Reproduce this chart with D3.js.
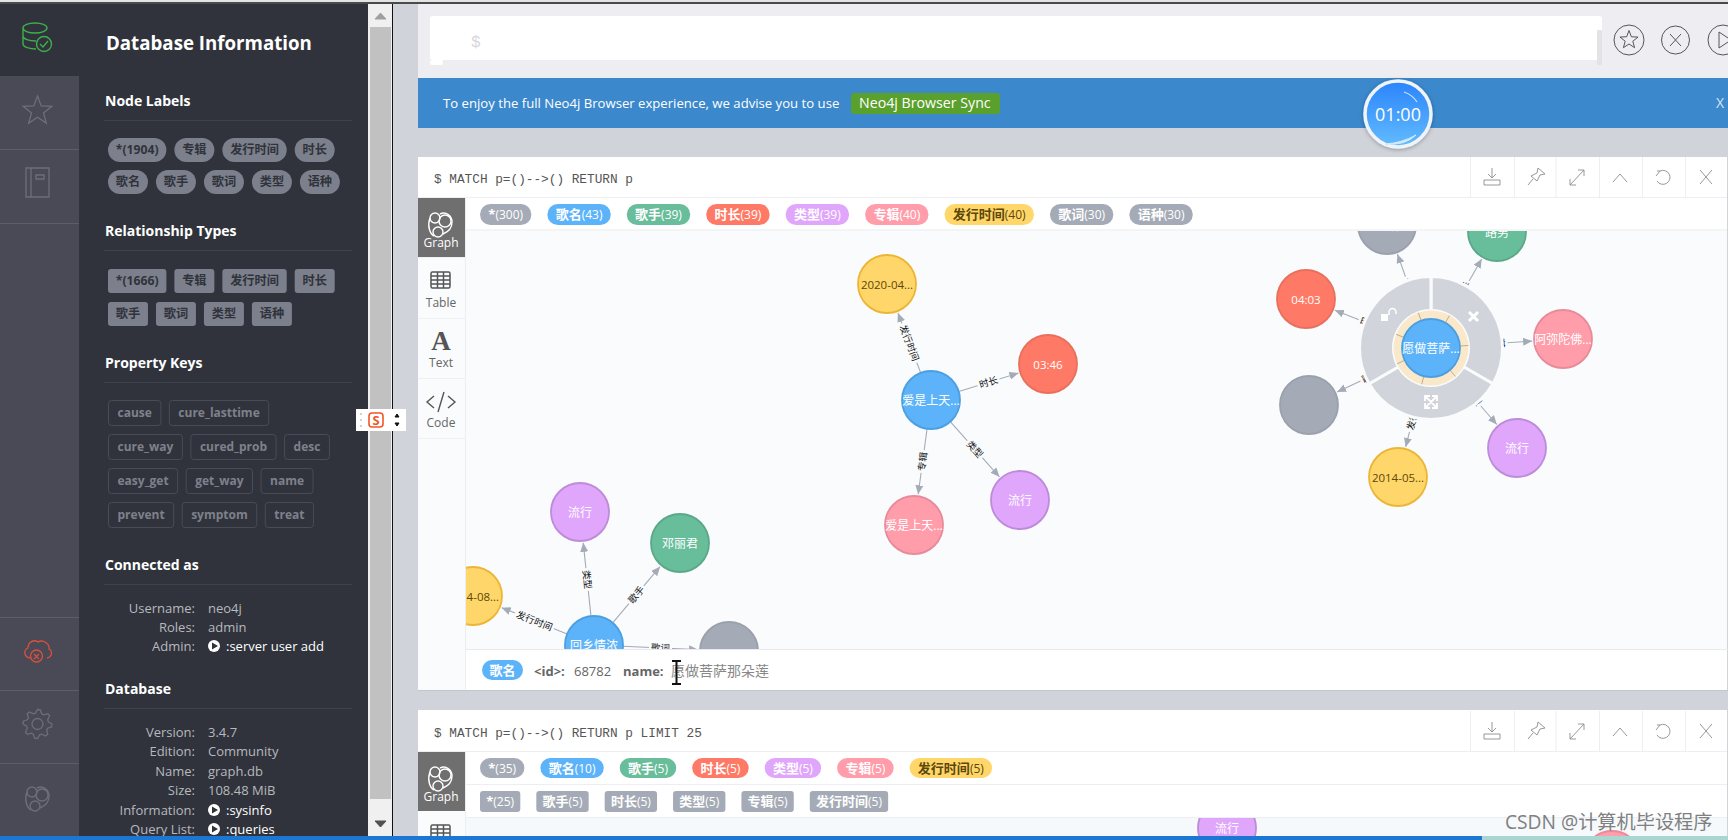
<!doctype html>
<html>
<head>
<meta charset="UTF-8">
<title>Neo4j Browser</title>
<script src="https://d3js.org/d3.v7.min.js"></script>
<style>
  html, body { margin: 0; padding: 0; background: #d0d3da; overflow: hidden; }
  svg { display: block; }
  text { font-family: "Open Sans", "Noto Sans CJK SC", sans-serif; }
  .mono { font-family: "Liberation Mono", "Noto Sans CJK SC", monospace; }
</style>
</head>
<body>
<svg id="page" width="1728" height="840"></svg>
<script>
// sidebar values
var nodeLabelTags = ["*(1904)", "专辑", "发行时间", "时长", "歌名", "歌手", "歌词", "类型", "语种"];
var relTypeTags = ["*(1666)", "专辑", "发行时间", "时长", "歌手", "歌词", "类型", "语种"];
var propertyKeys = [["cause", "cure_lasttime"], ["cure_way", "cured_prob", "desc"], ["easy_get", "get_way", "name"], ["prevent", "symptom", "treat"]];
var connectedKeys = ["Username:", "Roles:", "Admin:"];
var connectedVals = ["neo4j", "admin", ":server user add"];
var databaseKeys = ["Version:", "Edition:", "Name:", "Size:", "Information:", "Query List:"];
var databaseVals = ["3.4.7", "Community", "graph.db", "108.48 MiB", ":sysinfo", ":queries"];

// frame legends
var legendNames = ["*", "歌名", "歌手", "时长", "类型", "专辑", "发行时间", "歌词", "语种"];
var legendCounts = [300, 43, 39, 39, 39, 40, 40, 30, 30];
var legend2Names = ["*", "歌名", "歌手", "时长", "类型", "专辑", "发行时间"];
var legend2Counts = [35, 10, 5, 5, 5, 5, 5];
var rel2Names = ["*", "歌手", "时长", "类型", "专辑", "发行时间"];
var rel2Counts = [25, 5, 5, 5, 5, 5];

// graph of the first result, in graph units
var nodeNames = ["爱是上天...", "2020-04...", "03:46", "爱是上天...", "流行",
                 "回乡情浓", "流行", "邓丽君", "2014-08...", "",
                 "愿做菩萨...", "国语", "路男", "04:03", "阿弥陀佛...", "", "流行", "2014-05..."];
var nodeTypes = ["歌名", "发行时间", "时长", "专辑", "类型",
                 "歌名", "类型", "歌手", "发行时间", "歌词",
                 "歌名", "语种", "歌手", "时长", "专辑", "歌词", "类型", "发行时间"];
var nodeX = [466, 422, 583, 449, 555, 129, 115, 215, 8, 264, 966, 922, 1032, 841, 1098, 844, 1052, 933];
var nodeY = [170, 54, 134, 295, 270, 415, 282, 313, 366, 421, 118, -5, 2, 69, 109, 175, 218, 247];
var edgeFrom = [0, 0, 0, 0, 5, 5, 5, 5, 10, 10, 10, 10, 10, 10, 10];
var edgeTo = [1, 2, 3, 4, 6, 7, 8, 9, 11, 12, 13, 14, 15, 16, 17];
var edgeNames = ["发行时间", "时长", "专辑", "类型", "类型", "歌手", "发行时间", "歌词", "语种", "歌手", "时长", "专辑", "歌词", "类型", "发行时间"];

// second frame only shows two nodes poking in at the bottom
var node2Names = ["流行", ""];
var node2Types = ["类型", "专辑"];
var node2X = [762, 1147];
var node2Y = [11, 43];

var typeFill = {"*": "#a5abb6", "歌名": "#5db3fa", "歌手": "#68bd9b", "时长": "#ff7a66", "类型": "#dfa6fb", "专辑": "#ff9dab", "发行时间": "#ffd66a", "歌词": "#a5abb6", "语种": "#a5abb6"};
var typeEdge = {"*": "#9aa1ac", "歌名": "#4b9fe0", "歌手": "#5ba888", "时长": "#e86f5c", "类型": "#bd8bd8", "专辑": "#e88a98", "发行时间": "#edb534", "歌词": "#9aa1ac", "语种": "#9aa1ac"};
var typeText = {"发行时间": "#5c4708"};

var svg = d3.select("#page");
var defs = svg.append("defs");
var gridGray = "#a5abb6", graphBg = "#f9fbfd";

function box(p, x, y, w, h, fill, r) {
    return p.append("rect").attr("x", x).attr("y", y).attr("width", w).attr("height", h)
        .attr("fill", fill).attr("rx", r || 0).attr("ry", r || 0);
}
function label(p, x, y, s, size, fill, weight, anchor) {
    return p.append("text").attr("x", x).attr("y", y).text(s)
        .attr("font-size", size).attr("fill", fill)
        .attr("font-weight", weight || 400).attr("text-anchor", anchor || "start");
}
function line(p, x1, y1, x2, y2, col, w) {
    return p.append("line").attr("x1", x1).attr("y1", y1).attr("x2", x2).attr("y2", y2)
        .attr("stroke", col).attr("stroke-width", w || 1);
}
function path(p, d, col, w, fill) {
    return p.append("path").attr("d", d).attr("fill", fill || "none")
        .attr("stroke", col).attr("stroke-width", w || 1);
}

// row of pills, each one as wide as its text plus padding
function pillRow(p, items, x, y, o) {
    items.forEach(function(it) {
        var g = p.append("g");
        var t = g.append("text").attr("y", y + o.h / 2).attr("dy", ".36em")
            .attr("font-size", o.size).attr("fill", o.color ? o.color(it) : "#fff");
        t.append("tspan").attr("font-weight", o.boldName === false ? 400 : 700).text(it.name);
        if (it.count !== undefined) t.append("tspan").attr("font-size", o.size - 1).text("(" + it.count + ")");
        var w = t.node().getComputedTextLength() + o.pad * 2;
        t.attr("x", x + o.pad);
        var r = g.insert("rect", "text").attr("x", x).attr("y", y).attr("width", w).attr("height", o.h)
            .attr("rx", o.r).attr("ry", o.r).attr("fill", o.fill ? o.fill(it) : "none");
        if (o.stroke) r.attr("stroke", o.stroke);
        x += w + o.gap;
    });
}

function star(p, cx, cy, r, col, w) {
    var pts = d3.range(10).map(function(i) {
        var a = -Math.PI / 2 + i * Math.PI / 5, rr = i % 2 ? r * 0.42 : r;
        return [cx + rr * Math.cos(a), cy + rr * Math.sin(a)];
    });
    path(p, "M" + pts.join("L") + "Z", col, w);
}
function graphIcon(p, cx, cy, col) {
    var g = p.append("g").attr("transform", "translate(" + cx + "," + cy + ")").attr("fill", "none").attr("stroke", col).attr("stroke-width", 1.4);
    g.append("circle").attr("cx", -5).attr("cy", -6).attr("r", 5);
    g.append("circle").attr("cx", 5).attr("cy", -3).attr("r", 6);
    g.append("circle").attr("cx", -2).attr("cy", 8).attr("r", 5);
    g.append("path").attr("d", "M-10,-6C-13,2 -10,10 -6,12M0,-10C6,-13 12,-8 12,-2C12,5 8,8 3,10");
}

// ---------- frames ----------
box(svg, 0, 0, 1728, 840, "#d0d3da");
box(svg, 0, 0, 1728, 2, "#e4e4e4");
box(svg, 0, 2, 1728, 2, "#4a4a4a");

// editor
box(svg, 418, 4, 1310, 74, "#eeeef2");
box(svg, 430, 16, 1172, 44, "#fff", 3);
box(svg, 430, 60, 13, 5, "#fff", 2);
box(svg, 1597, 30, 5, 35, "#e3e3e6", 1);
label(svg, 471, 47, "$", 16, "#d6d6da").attr("class", "mono");
var circ = [[1629, 40, 15], [1675.5, 40, 14], [1723, 40, 15]];
circ.forEach(function(c) {
    svg.append("circle").attr("cx", c[0]).attr("cy", c[1]).attr("r", c[2]).attr("fill", "none").attr("stroke", "#555").attr("stroke-width", 1);
});
star(svg, 1629, 40, 9.5, "#555", 1);
path(svg, "M1670,34L1681,46M1681,34L1670,46", "#555", 1);
path(svg, "M1719,32L1731,40L1719,48Z", "#555", 1);

// banner
box(svg, 418, 78, 1310, 50, "#3b88cd");
label(svg, 443, 108, "To enjoy the full Neo4j Browser experience, we advise you to use", 13.15, "#fff");
box(svg, 851, 93, 149, 21, "#5aa02c", 3);
label(svg, 859, 108, "Neo4j Browser Sync", 14.2, "#fff");
label(svg, 1720, 108, "X", 14, "#d5e4f3", 400, "middle");

// result frames
box(svg, 418, 157, 1310, 533, "#fff");
box(svg, 418, 690, 1310, 1, "#c3c6cd");
box(svg, 418, 710, 1310, 130, "#fff");

function frameHead(top, query) {
    label(svg, 434, top + 26, query, 12.75, "#555").attr("class", "mono");
    line(svg, 418, top + 40.5, 1728, top + 40.5, "#eceef1");
    [1470, 1514, 1555.5, 1599, 1642, 1685].forEach(function(x) {
        line(svg, x + 0.5, top, x + 0.5, top + 40, "#eceef1");
    });
    var y = top + 20, c = "#8c8c8c";
    // download, pin, expand, collapse, refresh, close
    path(svg, "M1492,"+(y-9)+"V"+(y+1)+"M1488,"+(y-3)+"L1492,"+(y+1)+"L1496,"+(y-3)+"M1484,"+(y+3)+"H1500V"+(y+8)+"H1484Z", c, 0.9);
    path(svg, "M1538,"+(y-9)+"L1545,"+(y-3)+"L1540,"+(y-2)+"L1537,"+(y+4)+"L1531,"+(y-1)+"L1537,"+(y-4)+"ZM1533,"+(y+2)+"L1528,"+(y+8), c, 0.9);
    path(svg, "M1570,"+(y+8)+"L1584,"+(y-7)+"M1578,"+(y-7)+"H1584V"+(y-1)+"M1570,"+(y+2)+"V"+(y+8)+"H1576", c, 0.9);
    path(svg, "M1613,"+(y+5)+"L1620,"+(y-3)+"L1627,"+(y+5), c, 0.9);
    path(svg, "M1660,"+(y-6)+"A7,7 0 1 1 1657,"+(y+4)+"M1656,"+(y-1)+"L1660,"+(y-6)+"L1657,"+(y-6), c, 0.9);
    path(svg, "M1700,"+(y-7)+"L1712,"+(y+7)+"M1712,"+(y-7)+"L1700,"+(y+7), c, 0.9);
}
frameHead(157, "$ MATCH p=()-->() RETURN p");
frameHead(711, "$ MATCH p=()-->() RETURN p LIMIT 25");

// left tabs
function tabs(top, bottom) {
    box(svg, 418, top, 47, bottom - top, graphBg);
    line(svg, 465.5, top, 465.5, bottom, "#eceef1");
    box(svg, 418, top, 47, 59, "#6f6f6f");
    graphIcon(svg, 440, top + 26, "#fff");
    label(svg, 441, top + 49, "Graph", 12, "#fff", 400, "middle");
}
tabs(198, 690);
[257, 318, 378, 438].forEach(function(y) { line(svg, 418, y + 0.5, 465, y + 0.5, "#eef0f3"); });
function tableIcon(y) {
    var g = svg.append("g").attr("fill", "none").attr("stroke", "#555").attr("stroke-width", 1.5);
    g.append("rect").attr("x", 431).attr("y", y).attr("width", 19).attr("height", 16).attr("rx", 1.5);
    [4, 8, 12].forEach(function(d) { g.append("line").attr("x1", 431).attr("x2", 450).attr("y1", y + d).attr("y2", y + d); });
    [6.5, 12.5].forEach(function(d) { g.append("line").attr("x1", 431 + d).attr("x2", 431 + d).attr("y1", y).attr("y2", y + 16); });
}
tableIcon(272);
label(svg, 441, 307, "Table", 12, "#666", 400, "middle");
label(svg, 441, 350, "A", 27, "#555", 700, "middle").style("font-family", "Liberation Serif");
label(svg, 441, 367, "Text", 12, "#666", 400, "middle");
path(svg, "M434,396L427,402L434,408M448,396L455,402L448,408M444,392L438,412", "#555", 1.4);
label(svg, 441, 427, "Code", 12, "#666", 400, "middle");
tabs(752, 836);
tableIcon(825);

// legends
function legendItems(names, counts) {
    return names.map(function(n, i) { return {name: n, count: counts[i]}; });
}
var pillFill = function(it) { return typeFill[it.name]; };
var pillColor = function(it) { return it.name === "发行时间" ? "#5c4708" : "#fff"; };
pillRow(svg, legendItems(legendNames, legendCounts), 480, 204, {h: 21, r: 10.5, pad: 8.3, gap: 16, size: 13, fill: pillFill, color: pillColor});
line(svg, 466, 230, 1728, 230, "#e8eaed");

pillRow(svg, legendItems(legend2Names, legend2Counts), 480, 758, {h: 20, r: 10, pad: 8.25, gap: 16, size: 13, fill: pillFill, color: pillColor});
line(svg, 466, 784.5, 1728, 784.5, "#eceef1");
pillRow(svg, legendItems(rel2Names, rel2Counts), 480, 791, {h: 21, r: 3, pad: 6.2, gap: 16, size: 13, fill: function() { return gridGray; }, color: function() { return "#fff"; }});
line(svg, 466, 817.5, 1728, 817.5, "#eceef1");

// ---------- graph ----------
var x = d3.scaleLinear().domain([0, 1262]).range([465, 1727]);
var y = d3.scaleLinear().domain([0, 420]).range([230, 650]);
var y2 = d3.scaleLinear().domain([0, 19]).range([817, 836]);

defs.append("clipPath").attr("id", "clip1").append("rect").attr("x", 466).attr("y", 231).attr("width", 1261).attr("height", 418);
defs.append("clipPath").attr("id", "clip2").append("rect").attr("x", 466).attr("y", 818).attr("width", 1261).attr("height", 18);
defs.append("marker").attr("id", "arrow").attr("markerUnits", "userSpaceOnUse").attr("markerWidth", 10).attr("markerHeight", 8)
    .attr("refX", 9).attr("refY", 4).attr("orient", "auto")
    .append("path").attr("d", "M0,0L9,4L0,8Z").attr("fill", gridGray);

box(svg, 466, 231, 1261, 418, graphBg);
box(svg, 466, 818, 1261, 18, "#f6f9fb");

var R = 29;
var graph = svg.append("g").attr("clip-path", "url(#clip1)");
var links = edgeFrom.map(function(s, i) {
    var sx = x(nodeX[s]), sy = y(nodeY[s]), tx = x(nodeX[edgeTo[i]]), ty = y(nodeY[edgeTo[i]]);
    var len = Math.hypot(tx - sx, ty - sy), ux = (tx - sx) / len, uy = (ty - sy) / len;
    var deg = Math.atan2(uy, ux) * 180 / Math.PI;
    if (deg > 90 || deg < -90) deg += 180;
    return {x1: sx + ux * R, y1: sy + uy * R, x2: tx - ux * (R + 2), y2: ty - uy * (R + 2),
            ux: ux, uy: uy, sx: sx, sy: sy, deg: deg, name: edgeNames[i], from: s,
            mx: (sx + ux * R + tx - ux * (R + 2)) / 2, my: (sy + uy * R + ty - uy * (R + 2)) / 2};
});

graph.selectAll("line.edge").data(links).enter().append("line").attr("class", "edge")
    .attr("x1", function(d) { return d.x1; }).attr("y1", function(d) { return d.y1; })
    .attr("x2", function(d) { return d.x2; }).attr("y2", function(d) { return d.y2; })
    .attr("stroke", gridGray).attr("stroke-width", 1.1).attr("marker-end", "url(#arrow)");

var cap = graph.selectAll("g.cap").data(links).enter().append("g").attr("class", "cap")
    .attr("transform", function(d) { return "translate(" + d.mx + "," + d.my + ") rotate(" + d.deg + ")"; });
cap.append("rect").attr("x", function(d) { return -d.name.length * 4.75 - 2; }).attr("y", -6)
    .attr("width", function(d) { return d.name.length * 9.5 + 4; }).attr("height", 12).attr("fill", graphBg);
cap.append("text").attr("text-anchor", "middle").attr("dy", ".36em").attr("font-size", 9.5).attr("fill", "#111").text(function(d) { return d.name; });

// selected node ring
var selected = 10;
var cx = x(nodeX[selected]), cy = y(nodeY[selected]);
var ring = graph.append("g").attr("transform", "translate(" + cx + "," + cy + ")");
var arc = d3.arc().innerRadius(37.5).outerRadius(71.5);
ring.selectAll("path.seg").data(d3.pie().sort(null)([1, 1, 1])).enter().append("path").attr("class", "seg")
    .attr("d", arc).attr("fill", "#d1d4da").attr("stroke", graphBg).attr("stroke-width", 3);
ring.append("circle").attr("r", 37.5).attr("fill", "#f9e8c9");
links.forEach(function(d) {
    if (d.from !== selected) return;
    line(ring, d.ux * R, d.uy * R, d.ux * 37.5, d.uy * 37.5, "#c2ae88", 1);
});
// ring icons
ring.append("rect").attr("x", -50).attr("y", -34).attr("width", 7).attr("height", 7).attr("fill", "#fff");
path(ring, "M-42,-33V-36A3.5,3.5 0 0 1 -35,-36V-34", "#fff", 1.5);
path(ring, "M38,-36L47,-27M47,-36L38,-27", "#fff", 3);
path(ring, "M-5,49L5,59M5,49L-5,59M-6,53V48H-1M1,48H6V53M6,55V60H1M-1,60H-6V55", "#fff", 1.8);

function drawNodes(p, names, types, xs, ys, ysc) {
    var n = p.selectAll("g.node").data(names).enter().append("g").attr("class", "node")
        .attr("transform", function(d, i) { return "translate(" + x(xs[i]) + "," + ysc(ys[i]) + ")"; });
    n.append("circle").attr("r", R)
        .attr("fill", function(d, i) { return typeFill[types[i]]; })
        .attr("stroke", function(d, i) { return typeEdge[types[i]]; }).attr("stroke-width", 1.8);
    n.append("text").attr("text-anchor", "middle").attr("dy", ".45em")
        .attr("font-size", function(d) { return /[0-9]/.test(d) ? 11.5 : 12; })
        .attr("fill", function(d, i) { return typeText[types[i]] || "#fff"; }).text(function(d) { return d; });
}
drawNodes(graph, nodeNames, nodeTypes, nodeX, nodeY, y);
var graph2 = svg.append("g").attr("clip-path", "url(#clip2)");
drawNodes(graph2, node2Names, node2Types, node2X, node2Y, y2);
box(svg, 1727, 157, 1, 533, "#d0d3da");
box(svg, 1727, 710, 1, 126, "#d0d3da");

// frame 1 footer
line(svg, 466, 649.5, 1728, 649.5, "#e8eaed");
box(svg, 482, 660, 41, 20, typeFill["歌名"], 10);
label(svg, 502.5, 675, "歌名", 13, "#fff", 700, "middle");
label(svg, 534, 676, "<id>:", 13, "#666", 700);
label(svg, 574, 676, "68782", 13, "#666");
label(svg, 623, 676, "name:", 13, "#666", 700);
label(svg, 671, 676, "愿做菩萨那朵莲", 14, "#888");
path(svg, "M672,661H681M676.5,661V684M672,684H681", "#111", 2);

// ---------- sidebar ----------
box(svg, 0, 4, 79, 832, "#4a4a57");
box(svg, 79, 4, 289, 832, "#30333b");
box(svg, 0, 4, 79, 72, "#30333b");
[149, 223, 617, 690, 763].forEach(function(y0) { line(svg, 0, y0 + 0.5, 79, y0 + 0.5, "#5d5d6a"); });

var rail = "#6e6e7a", ok = "#3fae4c", bad = "#d9513c";
path(svg, "M23,28A12,5 0 1 0 47,28A12,5 0 1 0 23,28V44C23,47 30,49 36,49M23,36C23,39 29,41 36,41", ok, 1.4);
svg.append("circle").attr("cx", 44).attr("cy", 44).attr("r", 7.5).attr("fill", "#30333b").attr("stroke", ok).attr("stroke-width", 1.4);
path(svg, "M40,44L43,47L48,41", ok, 1.4);
star(svg, 37.5, 111, 15, rail, 1.3);
path(svg, "M26,168H49V197H26ZM31,168V197M36,175H44V179H36Z", rail, 1.3);
path(svg, "M30,658C24,657 23,650 28,648C28,642 34,639 38,642C43,639 50,644 49,649C53,651 52,657 47,658", bad, 1.3);
svg.append("circle").attr("cx", 36.5).attr("cy", 656).attr("r", 6).attr("fill", "none").attr("stroke", bad).attr("stroke-width", 1.3);
path(svg, "M34,654L39,659M39,654L34,659", bad, 1.2);
var gear = d3.lineRadial().curve(d3.curveLinearClosed)(d3.range(32).map(function(i) {
    return [i * Math.PI / 16, i % 4 < 2 ? 14.5 : 11];
}));
path(svg, gear, rail, 1.3).attr("transform", "translate(37.5,724)");
svg.append("circle").attr("cx", 37.5).attr("cy", 724).attr("r", 5.5).attr("fill", "none").attr("stroke", rail).attr("stroke-width", 1.3);
graphIcon(svg, 37, 798, rail);

label(svg, 106, 50, "Database Information", 18.7, "#fff", 700);
function section(title, base) {
    label(svg, 105, base, title, 14, "#fff", 700);
    line(svg, 104, base + 14.5, 352, base + 14.5, "#3e424c");
}
section("Node Labels", 106);
section("Relationship Types", 236);
section("Property Keys", 368);
section("Connected as", 570);
section("Database", 694);

function tagItems(a) { return a.map(function(n) { return {name: n}; }); }
var tagStyle = function(r) {
    return {h: 24, r: r, pad: 7.8, gap: 8, size: 12.2, fill: function() { return "#7c808c"; }, color: function() { return "#30333b"; }};
};
pillRow(svg, tagItems(nodeLabelTags.slice(0, 4)), 108, 138, tagStyle(12));
pillRow(svg, tagItems(nodeLabelTags.slice(4)), 108, 170, tagStyle(12));
pillRow(svg, tagItems(relTypeTags.slice(0, 4)), 108, 269, tagStyle(3));
pillRow(svg, tagItems(relTypeTags.slice(4)), 108, 302, tagStyle(3));
propertyKeys.forEach(function(row, i) {
    pillRow(svg, tagItems(row), 108.5, 400.5 + i * 34, {h: 25, r: 3, pad: 9, gap: 8.5, size: 12, stroke: "#484c56", fill: function() { return "none"; }, color: function() { return "#7e818c"; }});
});

function infoRows(keys, vals, ys, links) {
    keys.forEach(function(k, i) {
        label(svg, 195, ys[i], k, 13, "#b7b9be", 400, "end");
        if (links.indexOf(i) >= 0) {
            svg.append("circle").attr("cx", 214).attr("cy", ys[i] - 5).attr("r", 6).attr("fill", "#fff");
            svg.append("path").attr("d", "M212,"+(ys[i]-8.5)+"L218,"+(ys[i]-5)+"L212,"+(ys[i]-1.5)+"Z").attr("fill", "#30333b");
            label(svg, 226, ys[i], vals[i], 13, "#fff");
        } else {
            label(svg, 208, ys[i], vals[i], 13, "#b7b9be");
        }
    });
}
infoRows(connectedKeys, connectedVals, [613, 632, 651], [2]);
infoRows(databaseKeys, databaseVals, [737, 756, 776, 795, 815, 834], [4, 5]);

// scrollbar
box(svg, 368, 4, 24, 832, "#f0f0f0");
box(svg, 370, 27, 21, 772, "#c1c1c1");
path(svg, "M375,19L380.5,13L386,19Z", "#a0a0a0", 0, "#a0a0a0");
path(svg, "M375,821L380.5,827L386,821Z", "#505050", 0, "#505050");
line(svg, 392.5, 4, 392.5, 836, "#111");

// toolbar of the input method
box(svg, 356, 409, 50, 22, "#fff");
[414, 420, 426].forEach(function(yy) { svg.append("circle").attr("cx", 361).attr("cy", yy).attr("r", 0.8).attr("fill", "#999"); });
box(svg, 369, 413, 14, 14, "#fff", 3).attr("stroke", "#f0572a").attr("stroke-width", 1.6);
label(svg, 376, 425, "S", 13, "#f0572a", 700, "middle");
path(svg, "M395,417L397,414L399,417Z", "#111", 0, "#111");
path(svg, "M395,423L397,426L399,423Z", "#111", 0, "#111");

// timer
var tg = defs.append("linearGradient").attr("id", "tg").attr("x1", 0).attr("y1", 0).attr("x2", 0).attr("y2", 1);
tg.append("stop").attr("offset", 0).attr("stop-color", "#2a84fb");
tg.append("stop").attr("offset", 1).attr("stop-color", "#63bcfd");
var fs = defs.append("filter").attr("id", "sh").attr("x", "-30%").attr("y", "-30%").attr("width", "160%").attr("height", "160%");
fs.append("feDropShadow").attr("dx", 0).attr("dy", 1).attr("stdDeviation", 2).attr("flood-color", "#000").attr("flood-opacity", 0.3);
svg.append("circle").attr("cx", 1398).attr("cy", 114).attr("r", 33).attr("fill", "url(#tg)")
    .attr("stroke", "#f0f4f8").attr("stroke-width", 3.5).attr("filter", "url(#sh)");
path(svg, "M1404,92A24,24 0 0 1 1417,102", "#cfe3fb", 1.2);
path(svg, "M1385,144Q1402,143 1416,135Q1405,146 1385,144Z", "#cfeafc", 0, "#cfeafc");
label(svg, 1398, 121, "01:00", 18, "#fff", 400, "middle");

// task bar and watermark
box(svg, 0, 836, 1482, 4, "#1c77d2");
box(svg, 1482, 836, 246, 4, "#a8d6d0");
label(svg, 1505, 829, "CSDN @计算机毕设程序", 19.2, "#808080");
</script>
</body>
</html>
